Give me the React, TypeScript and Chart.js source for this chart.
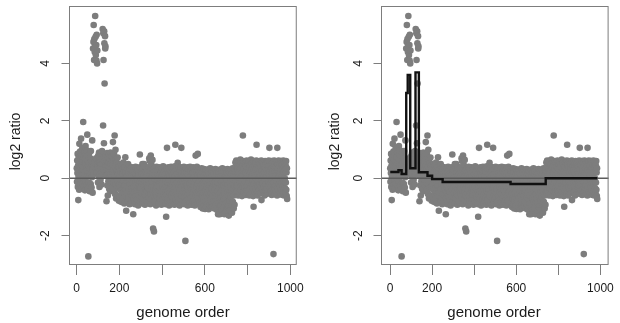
import React, { useEffect, useRef } from 'react';
import { Chart, registerables } from 'chart.js';

Chart.register(...registerables);

// log2 ratio values read along genome order (1..985), split by region
const seg1 = [
  0.35, -0.12, 0.62, 0.18, 0.85, -0.3, 0.44, -0.76, 0.05, 0.71,
  0.28, -0.4, 1.2, 0.52, 0.1, 0.93, -0.22, 0.38, 0.66, -0.05,
  1.38, 0.24, 0.8, -0.35, 0.47, 0.12, 1.05, -0.18, 0.58, 0.31,
  1.96, 0.02, 0.74, 0.4, -0.28, 0.9, 0.15, 0.55, -0.42, 0.68,
  0.2, 1.12, -0.1, 0.49, 0.83, 0.06, 0.36, -0.25, 0.97, 1.52,
  0.27, -0.38, 0.61, 0.13, -2.72, 0.78, 0.42, -0.15, 0.88, 0.22,
  -0.45, 0.54, 0.09, 0.7, 0.33, -0.2, 0.95, 0.16, 0.46, -0.32,
  0.6, 0.04, 1.32, 0.38, -0.5, 0.25,
];
const ampA = [
  4.52, 0.4, 4.75, 5.34, 0.15, 4.12, 4.85, 0.55, 4.4, 4.58,
  5.65, 0.3, 4.93, 4.29, 0.7, 4.64, 4.1, 5.0, 0.2, 4.0,
  4.45, 0.5,
];
const seg2 = [
  0.42, -0.15, 0.78, 0.3, 0.6, 0.05, 0.9, 0.25, -0.3, 0.55,
  0.72, 0.12, 0.48, -0.05, 0.85, 0.38, 0.2, 0.65, -0.22, 0.5,
  0.95, 0.15, 0.33,
];
const ampB = [
  5.2, 0.5, 1.84, 5.05, 4.12, 0.3, 1.22, 5.12, 4.7, 3.3,
  0.6, 4.95, 4.52, 4.6, 0.4, 0.1, 0.8,
];
const seg3 = [
  0.35, -0.8, 0.62, 0.1, 0.88, -0.25, 0.45, -0.6, 0.72, 0.18,
  -0.1, 0.55, 0.3, 0.82, -0.38, 0.4, 0.05, 0.68, 0.25, -0.45,
  0.9, 0.15, 0.5, -0.2, 0.36, 0.76, -0.05, 0.58, 0.22, -0.32,
  0.44, 1.26, 0.08, 0.64, -0.15, 0.3, 0.85, -0.4, 0.2, 1.49,
];
const seg3b = [
  0.1, -0.55, 0.42, 0.99, -0.2, 0.65, -0.7, 0.25, 0.02, 0.55,
  -0.35, 0.3, -0.1, 0.72, -0.6, 0.15, 0.45, -0.3, 0.38, -0.78,
  0.2, 0.05,
];
const seg4a = [
  -0.2, 0.35, -0.65, 0.1, -0.4, 0.5, -0.05, -0.82, 0.22, -0.3,
  0.42, -0.55, 0.05, -0.15, 0.3, -0.72, 0.15, -0.35, 0.55, -0.1,
  -0.48, 0.25, -0.88, 0.0, 0.38, -0.25, -0.6, 0.73, 0.12, -0.42,
  0.2, -1.13, -0.08, 0.45, -0.5, 0.08, -0.3, 0.32, -0.78, -0.02,
  0.5, -0.38, -0.12, 0.18, -0.68, 0.28, -0.2, -0.9, 0.4, -0.05,
];
const seg4b = [
  -0.1, 0.3, -0.55, -0.2, 0.15, -0.85, 0.05, -0.35, 0.38, -0.6,
  -0.05, 0.22, -0.45, -0.15, -1.25, 0.1, -0.7, 0.35, -0.3, -0.02,
  -0.5, 0.2, -0.9, 0.0, -0.25, 0.4, -0.62, -0.1, 0.12, -0.4,
  0.28, -0.75, -0.18, 0.05, -0.48, 0.32, -0.08, -0.95, 0.18, -0.28,
  -0.58, 0.1, -0.22, 0.38, -0.4, 0.83, -0.12, -0.8, 0.25, -0.35,
  0.02, -0.65, 0.3, -0.15, -0.5, 0.15, -0.88, 0.5, -0.05, -0.42,
  0.35, -0.2, -0.7, 0.08, 0.5, -0.3, -0.55, 0.2, -0.1, -0.92,
  0.4, -0.38, 0.0, -0.6, 0.22, -0.25, -0.78, 0.12, -0.45, 0.3,
  -0.15, -0.85, 0.18, -0.32, 0.05, -0.52, 0.38, -0.08, -0.68, 0.7,
  -0.2, 0.6, -0.4, 0.1, -0.9, 0.28, 0.79, -0.55, 0.0, -0.3,
  0.45, -0.72, -0.12, 0.2, 0.64, -0.48, 0.08, -1.75, -0.35, 0.3,
  -0.6, -1.85, 0.15, -0.22, -0.82, 0.36, -0.05, -0.5, 0.12, -0.4,
  0.25, -0.95, -0.18, 0.4, -0.3, -0.62, 0.05, -0.1, 0.32, -0.78,
  -0.25, 0.18, -0.5, 0.02, -0.88, 0.38, -0.15, -0.42, 0.1, -0.7,
  0.3, -0.35, -0.05, -0.6, 0.22, -0.2, -0.92, 0.08, -0.45, 0.35,
  -0.12, -0.75, 0.15, -0.3, 0.42, -0.55, -0.02, -0.85, 0.2, -0.38,
  0.05, -0.65, 0.28, -0.2, -0.48, 0.12, -0.9, -0.1, -1.34, 0.35,
  -0.3, -0.58, 1.06, 0.0, -0.8, 0.25, -0.15, -0.45, 0.38, -0.7,
  -0.05, 0.18, -0.95, -0.25, 0.32, -0.52, 0.08, -0.35, -0.72, 0.22,
  -0.18, 0.4, -0.6, -0.08, -0.88, 0.15, -0.4, 0.3, -0.25, -0.78,
  0.1, -0.5, 0.35, -0.12, -0.68, 0.22, -0.3, -0.92, 0.05, 0.42,
  -0.45, 1.17, -0.2, -0.75, 0.28, -0.05, -0.55, 0.18, -0.38, -0.85,
  0.32, -0.15, 0.54, -0.62, 0.0, -0.3, 0.4, -0.82, -0.1, 0.2,
  -0.48, -0.95, 0.25, -0.22, 0.1, -0.7, 0.38, -0.35, -0.02, 1.06,
  -0.58, 0.15, -0.28, -0.88, 0.3, -0.12, -0.45, 0.05, -0.72, 0.22,
  -0.2, 0.4, -0.65, -0.05, -0.9, 0.18, -0.38, 0.28, -2.18, -0.15,
  -0.52, 0.35, -0.8, 0.02, -0.25, 0.2, -0.62, -0.1, 0.38, -0.95,
  -0.3, 0.12, -0.48, 0.3, -0.72, -0.08, 0.22, -0.55, -0.18, -0.85,
  0.4, -0.35, 0.05, -0.68, 0.25, -0.2, -0.92, 0.15, -0.42, 0.32,
  -0.1, -0.6, 0.2, -0.3, -0.82, 0.38, -0.5, 0.0, -0.25, -0.75,
  0.28, -0.15, -0.95, 0.1, -0.4, 0.35, 0.79, -0.62, -0.05, 0.22,
  -0.78, -0.28, 0.4, -0.5, 0.12, -0.88, 0.85, -0.2, 0.3, -0.45,
  -0.1, -0.68, 0.18,
];
const seg4c = [
  -0.4, 0.25, -0.85, -0.1, -0.55, 0.3, -1.0,
  -0.25, 0.1, -0.7, -0.35, 0.35, -0.9, -0.05, -0.6, 0.2, -1.05,
  -0.3, 0.05, -0.78, -0.15, -0.5, 0.32, -0.95, -0.2, 0.15, -0.65,
  -1.07, 0.0, -0.42, 0.28, -0.82, -0.1, -0.58, 0.18, -1.0, -0.3,
  0.3, -0.7, -0.2, -0.9, 0.08, -0.48, -0.05, -1.08, 0.22, -0.38,
  -0.62, 0.12, -0.25, -0.95, 0.35, -0.15, -0.75, 0.02, -0.52, -1.02,
  0.2, -0.35, -0.85, 0.1, -0.6, -0.08, 0.3, -0.98, -0.28, -0.45,
  0.15, -0.8, -0.18, 0.25, -1.05, -0.4, 0.05, -0.65, -0.22, 0.32,
  -0.92, -0.1, -0.55, 0.18, -0.3, -1.1, 0.0, -0.72, 0.28, -0.45,
  -0.15, -1.25, 0.1, -0.6, -0.88, 0.22, -0.35, -0.02, -1.0, -1.25,
  0.3, -0.5, -0.2, -0.95, 0.08, -0.68, -0.3, 0.2, -1.1, -0.12,
  -0.42, 0.35, -0.82, -0.05, -0.6, 0.15, -1.05, -0.25, 0.25, -0.75,
  -0.38, -1.25, 0.05, -0.55, -0.9, 0.3, -0.18, -0.7, 0.12, -1.15,
  -0.3, 0.2, -0.85, -0.08, -0.5, 0.32, -1.0, -0.22, -0.62, 0.1,
  -0.95, -1.3, 0.25, -0.4, -0.15, -0.78, 0.18, -1.12, -0.3, 0.05,
  -0.65, -0.1, 0.3, -0.9, -0.45, 0.15, -1.2, -0.2, -0.55, 0.35,
  -0.82, -0.05, -0.35, 0.22, -1.05, -0.6, 0.1, -0.28, -0.92, 0.28,
];
const seg5 = [
  0.35, -0.3, 0.55, -0.1, 0.2, -0.5, 0.62, 0.05, -0.25, 0.4,
  -0.45, 0.15, 0.5, -0.2, 0.3, -0.6, 0.08, 0.58, -0.35, 0.22,
  -0.05, 0.45, -0.55, 0.28, -0.15, 0.65, 0.0, -0.4, 0.35, -0.25,
  0.52, -0.1, 0.18, -0.62, 0.42, 0.1, -0.3, 1.49, 0.25, -0.48,
  0.6, -0.18, 0.32, -0.05, -0.52, 0.48, 0.12, -0.35, 0.55, -0.12,
  0.2, -0.58, 0.4, 0.02, -0.28, 0.62, -0.42, 0.15, 0.35, -0.2,
  -0.5, 0.5, 0.05, -0.3, 0.28, 0.58, -0.15, -0.6, 0.38, 0.1,
  -0.38, 0.45, -0.08, 0.22, -0.55, 0.65, 0.0, -0.25, 0.3, -0.45,
  0.52, 0.12, -0.32, 0.4, -0.1, -0.62, 0.25, -0.99, 0.6, -0.2,
  0.08, 0.42, -0.48, 0.18, -0.15, 0.55, -0.35, 0.3, 0.02, -0.55,
  0.62, 1.17, -0.25, 0.35, -0.05, 0.48, -0.6, 0.15, -0.3, 0.4,
  -0.12, 0.58, -0.45, 0.2, 0.05, -0.38, 0.5, -0.2, 0.32, -0.52,
  0.1, 0.45, -0.28, 0.62, -0.76, 0.25, -0.08, 0.4, -0.42, 0.15,
  0.55, -0.18, 0.3, -0.5, 0.08, 0.48, -0.3, 0.2, -0.6, 0.38,
  -0.1, 0.6, -0.4, 0.12, 0.35, -0.22, 0.52, -0.55, 0.05, 0.28,
  -0.35, 0.45, -0.05, 0.58, -0.48, 0.18, 0.38, -0.25, 0.62, -0.12,
  0.3, 1.06, -0.52, 0.22, -0.2, 0.5, 0.02, -0.42, 0.4, -0.3,
  0.15, 0.6, -0.58, 0.35, -0.08, 0.25, -0.38, 0.52, 0.1, -0.5,
  -2.64, 0.42, -0.15, 0.62, -0.32, 0.2, 0.48, -0.55, 0.05, 0.35,
  -0.25, 0.58, -0.45, 0.15, 0.4, -0.1, 0.55, -0.6, 1.06, 0.28,
  -0.35, 0.5, 0.0, -0.48, 0.62, 0.2, -0.2, 0.38, -0.55, 0.12,
  0.45, -0.3, 0.25, -0.12, 0.6, -0.5, 0.35, 0.05, -0.4, 0.52,
  -0.18, 0.3, -0.58, 0.48, 0.1, -0.28, 0.62, -0.45, 0.22, -0.05,
  0.4, -0.6, 0.55, 0.0, -0.35, 0.3, -0.52, 0.45, -0.15, 0.6,
  -0.4, 0.2, -0.62, 0.35, -0.72,
];

const log2Ratio = [
  ...seg1, ...ampA, ...seg2, ...ampB, ...seg3, ...seg3b,
  ...seg4a, ...seg4b, ...seg4c, ...seg5,
];

// segmentation (right panel): segment start positions and segment means
const segStarts = [1, 40, 55, 77, 84, 96, 121, 137, 178, 200, 250, 573, 740, 985];
const segMeans = [0.22, 0.28, 0.15, 2.97, 3.6, 0.35, 3.69, 0.21, 0.09, -0.03, -0.13, -0.2, 0.0, 0.0];

const xTickValues = [0, 200, 400, 600, 800, 1000];
const xTickLabels = ['0', '200', '', '600', '', '1000'];
const yTickValues = [-2, 0, 2, 4];
const yTickLabels = ['-2', '0', '2', '4'];

const FONT = '"Liberation Sans", Arial, Helvetica, sans-serif';
const TEXT = '#1a1a1a';
const AXIS = '#7d7d7d';

type Panel = {
  showSeg: boolean;
  yW: number;
  padR: number;
  xMin: number;
  xMax: number;
  yTickX: number;
  yTitleX: number;
  xTitleX: number;
};

const panels: Panel[] = [
  { showSeg: false, yW: 69, padR: 11, xMin: -35.5, xMax: 1030, yTickX: 49.3, yTitleX: 19.5, xTitleX: 183 },
  { showSeg: true, yW: 71, padR: 7, xMin: -43, xMax: 1039, yTickX: 52.3, yTitleX: 29, xTitleX: 184 },
];

function makePlugin(p: Panel) {
  return {
    id: 'rstyle',
    afterDatasetDraw(chart: any, args: any) {
      const ds = chart.data.datasets[args.index];
      if (ds.label !== 'probes') return;
      const { ctx, chartArea: ca, scales } = chart;
      const py = scales.y.getPixelForValue(0);
      ctx.save();
      ctx.beginPath();
      ctx.strokeStyle = '#5c5c5c';
      ctx.lineWidth = 1.5;
      ctx.moveTo(ca.left, py);
      ctx.lineTo(ca.right, py);
      ctx.stroke();
      ctx.restore();
    },
    afterDraw(chart: any) {
      const { ctx, chartArea: ca, scales } = chart;
      ctx.save();
      ctx.strokeStyle = AXIS;
      ctx.lineWidth = 1;
      ctx.strokeRect(ca.left + 0.5, ca.top + 0.5, ca.right - ca.left - 1, ca.bottom - ca.top - 1);
      ctx.fillStyle = TEXT;
      ctx.textAlign = 'center';
      ctx.textBaseline = 'alphabetic';
      ctx.font = `12px ${FONT}`;
      yTickValues.forEach((v, i) => {
        const py = scales.y.getPixelForValue(v);
        ctx.save();
        ctx.translate(p.yTickX, py);
        ctx.rotate(-Math.PI / 2);
        ctx.fillText(yTickLabels[i], 0, 0);
        ctx.restore();
      });
      ctx.font = `14px ${FONT}`;
      ctx.save();
      ctx.translate(p.yTitleX, 141.5);
      ctx.rotate(-Math.PI / 2);
      ctx.fillText('log2 ratio', 0, 0);
      ctx.restore();
      ctx.font = `15px ${FONT}`;
      ctx.fillText('genome order', p.xTitleX, 316.5);
      ctx.restore();
    },
  };
}

function PanelChart({ p }: { p: Panel }) {
  const ref = useRef<HTMLCanvasElement | null>(null);
  useEffect(() => {
    if (!ref.current) return;
    const points = log2Ratio.map((y, i) => ({ x: i + 1, y }));
    const datasets: any[] = [];
    if (p.showSeg) {
      datasets.push({
        type: 'line',
        label: 'segments',
        data: segStarts.map((x, i) => ({ x, y: segMeans[i] })),
        stepped: true,
        borderColor: '#111111',
        borderWidth: 2.4,
        pointRadius: 0,
        fill: false,
        order: 1,
      });
    }
    datasets.push({
      type: 'scatter',
      label: 'probes',
      data: points,
      pointRadius: 3.3,
      pointBackgroundColor: '#7d7d7d',
      pointBorderWidth: 0,
      showLine: false,
      order: 2,
    });
    const chart = new Chart(ref.current, {
      type: 'scatter',
      data: { datasets },
      plugins: [makePlugin(p)],
      options: {
        animation: false,
        responsive: false,
        devicePixelRatio: 1,
        events: [],
        layout: { padding: { top: 6, right: p.padR, left: 0, bottom: 0 } },
        plugins: { legend: { display: false }, tooltip: { enabled: false } },
        scales: {
          x: {
            type: 'linear',
            min: p.xMin,
            max: p.xMax,
            afterBuildTicks: (s: any) => {
              s.ticks = xTickValues.map((v) => ({ value: v }));
            },
            afterFit: (s: any) => {
              s.height = 58;
            },
            ticks: {
              autoSkip: false,
              maxRotation: 0,
              minRotation: 0,
              padding: 6,
              color: TEXT,
              font: { family: FONT, size: 12 },
              callback: (v: any) => {
                const k = xTickValues.indexOf(Number(v));
                return k >= 0 ? xTickLabels[k] : '';
              },
            },
            grid: { drawOnChartArea: false, drawTicks: true, tickLength: 10, color: AXIS, lineWidth: 1 },
            border: { display: false },
          },
          y: {
            type: 'linear',
            min: -3.02,
            max: 6.0,
            afterBuildTicks: (s: any) => {
              s.ticks = yTickValues.map((v) => ({ value: v }));
            },
            afterFit: (s: any) => {
              s.width = p.yW;
            },
            ticks: { display: false },
            grid: { drawOnChartArea: false, drawTicks: true, tickLength: 7.5, color: AXIS, lineWidth: 1 },
            border: { display: false },
          },
        },
      } as any,
    } as any);
    return () => chart.destroy();
  }, [p]);
  return (
    <div style={{ width: 310, height: 323, position: 'relative' }}>
      <canvas ref={ref} width={310} height={323} style={{ display: 'block', width: 310, height: 323 }} />
    </div>
  );
}

export default function App() {
  return (
    <div
      style={{
        position: 'fixed',
        left: 0,
        top: 0,
        width: 620,
        height: 323,
        display: 'flex',
        background: '#ffffff',
      }}
    >
      {panels.map((p, i) => (
        <PanelChart key={i} p={p} />
      ))}
    </div>
  );
}
